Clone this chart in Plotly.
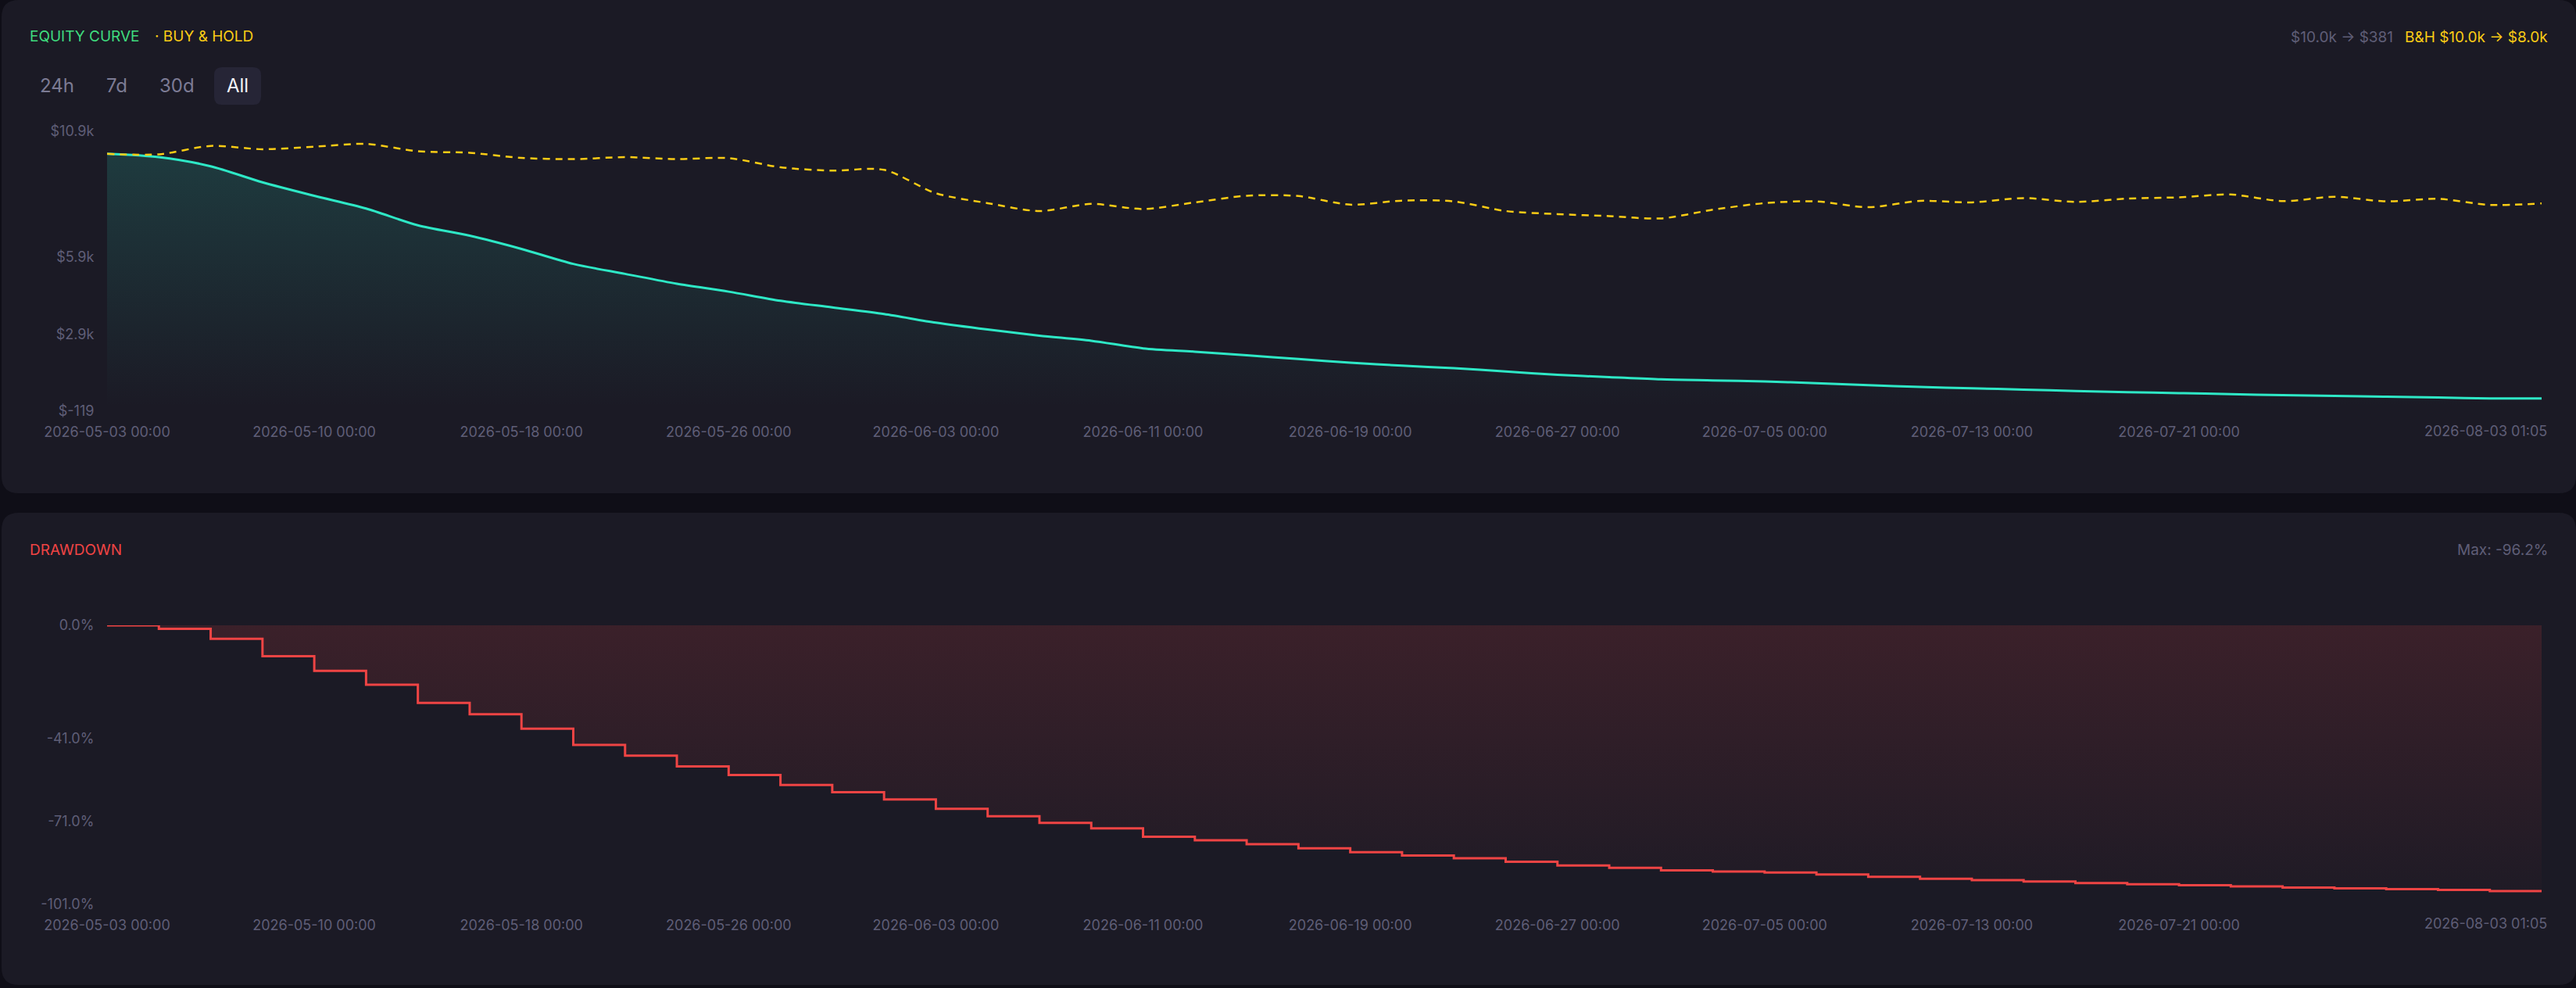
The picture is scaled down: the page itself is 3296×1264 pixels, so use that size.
import plotly.graph_objects as go

W, H = 3296, 1264

# one point every 2 days (plus start and "now")
dates = [
    "2026-05-03 00:00",
    "2026-05-04 00:00", "2026-05-06 00:00", "2026-05-08 00:00", "2026-05-10 00:00",
    "2026-05-12 00:00", "2026-05-14 00:00", "2026-05-16 00:00", "2026-05-18 00:00",
    "2026-05-20 00:00", "2026-05-22 00:00", "2026-05-24 00:00", "2026-05-26 00:00",
    "2026-05-28 00:00", "2026-05-30 00:00",
    "2026-06-01 00:00", "2026-06-03 00:00", "2026-06-05 00:00", "2026-06-07 00:00",
    "2026-06-09 00:00", "2026-06-11 00:00", "2026-06-13 00:00", "2026-06-15 00:00",
    "2026-06-17 00:00", "2026-06-19 00:00", "2026-06-21 00:00", "2026-06-23 00:00",
    "2026-06-25 00:00", "2026-06-27 00:00", "2026-06-29 00:00",
    "2026-07-01 00:00", "2026-07-03 00:00", "2026-07-05 00:00", "2026-07-07 00:00",
    "2026-07-09 00:00", "2026-07-11 00:00", "2026-07-13 00:00", "2026-07-15 00:00",
    "2026-07-17 00:00", "2026-07-19 00:00", "2026-07-21 00:00", "2026-07-23 00:00",
    "2026-07-25 00:00", "2026-07-27 00:00", "2026-07-29 00:00", "2026-07-31 00:00",
    "2026-08-02 00:00", "2026-08-03 01:05",
]

equity = [10000, 9870, 9510, 8880, 8350, 7850, 7190, 6780, 6260, 5670, 5280, 4890,
          4580, 4220, 3960, 3700, 3360, 3090, 2850, 2650, 2350, 2220, 2080, 1930,
          1790, 1670, 1570, 1440, 1310, 1220, 1130, 1090, 1050, 980, 900, 830,
          780, 730, 670, 630, 590, 550, 510, 480, 450, 420, 380, 381]

buy_hold = [10000, 9980, 10310, 10180, 10280, 10390, 10100, 10040, 9840, 9790, 9870, 9790,
            9830, 9470, 9340, 9370, 8450, 8060, 7750, 8030, 7830, 8090, 8350, 8340,
            8000, 8160, 8130, 7750, 7630, 7550, 7460, 7800, 8060, 8130, 7900, 8150,
            8090, 8260, 8110, 8240, 8290, 8400, 8140, 8310, 8130, 8230, 7990, 8050]

drawdown = [0, -1.3, -4.9, -11.2, -16.5, -21.5, -28.1, -32.2, -37.4, -43.3, -47.2, -51.1,
            -54.2, -57.8, -60.4, -63.0, -66.4, -69.1, -71.5, -73.5, -76.5, -77.8, -79.2, -80.7,
            -82.1, -83.3, -84.3, -85.6, -86.9, -87.8, -88.7, -89.1, -89.5, -90.2, -91.0, -91.7,
            -92.2, -92.7, -93.3, -93.7, -94.1, -94.5, -94.9, -95.2, -95.5, -95.8, -96.2, -96.2]

x_ticks = ["2026-05-03 00:00", "2026-05-10 00:00", "2026-05-18 00:00", "2026-05-26 00:00",
           "2026-06-03 00:00", "2026-06-11 00:00", "2026-06-19 00:00", "2026-06-27 00:00",
           "2026-07-05 00:00", "2026-07-13 00:00", "2026-07-21 00:00"]
last_tick = "2026-08-03 01:05"

eq_tickvals = [-119, 2911, 5941, 10900]
eq_ticktext = ["$-119", "$2.9k", "$5.9k", "$10.9k"]
dd_tickvals = [0, -41, -71, -101]
dd_ticktext = ["0.0%", "-41.0%", "-71.0%", "-101.0%"]

PAGE = "#0f0e17"
CARD = "#1b1a25"
MUTED = "#5f5e77"
TEAL = "#2ee8c6"
YELLOW = "#facc15"
RED = "#ef4444"
GREEN = "#3fdc7e"
FONT = "Inter, sans-serif"


def px(x):
    return x / W


def py(y):
    return 1 - y / H


def rounded(x0, y0, x1, y1, r, color):
    a, b, top, bot = px(x0), px(x1), py(y0), py(y1)
    rx, ry = r / W, r / H
    path = (f"M{a+rx},{top} L{b-rx},{top} Q{b},{top} {b},{top-ry} "
            f"L{b},{bot+ry} Q{b},{bot} {b-rx},{bot} L{a+rx},{bot} "
            f"Q{a},{bot} {a},{bot+ry} L{a},{top-ry} Q{a},{top} {a+rx},{top} Z")
    return dict(type="path", xref="paper", yref="paper", path=path,
                fillcolor=color, line=dict(width=0), layer="below")


def label(text, x, y, color, size=18, anchor="left", **kw):
    return dict(text=text, x=px(x), y=py(y), xref="paper", yref="paper",
                xanchor=anchor, yanchor="middle", showarrow=False,
                font=dict(family=FONT, size=size, color=color), **kw)


fig = go.Figure()

fig.add_trace(go.Scatter(
    x=dates, y=equity, mode="lines",
    line=dict(color=TEAL, width=3, shape="spline", smoothing=0.8),
    fill="tozeroy",
    fillgradient=dict(type="vertical",
                      colorscale=[[0, "rgba(46,232,198,0)"], [1, "rgba(46,232,198,0.16)"]]),
    hoverinfo="skip",
))
fig.add_trace(go.Scatter(
    x=dates, y=buy_hold, mode="lines",
    line=dict(color=YELLOW, width=2.5, dash="9px,7px", shape="spline", smoothing=0.8),
    hoverinfo="skip",
))
fig.add_trace(go.Scatter(
    x=dates, y=drawdown, mode="lines", xaxis="x2", yaxis="y2",
    line=dict(color=RED, width=3, shape="hv"),
    fill="tozeroy",
    fillgradient=dict(type="vertical",
                      colorscale=[[0, "rgba(239,68,68,0.02)"], [1, "rgba(239,68,68,0.15)"]]),
    hoverinfo="skip",
))

plot_dom = [px(137), px(3252)]
tickfont = dict(family=FONT, size=18, color=MUTED)
xcommon = dict(type="category", range=[0, len(dates) - 1], tickmode="array",
               tickvals=x_ticks, ticktext=x_ticks, showgrid=False, zeroline=False,
               showline=False, ticks="outside", ticklen=10, tickcolor="rgba(0,0,0,0)",
               tickfont=tickfont, fixedrange=True, domain=plot_dom, automargin=False)
ycommon = dict(showgrid=False, zeroline=False, showline=False, ticks="outside",
               ticklen=12, tickcolor="rgba(0,0,0,0)", tickfont=tickfont,
               tickmode="array", fixedrange=True, automargin=False)

shapes = [
    rounded(2, 0, 3296, 631, 22, CARD),
    rounded(2, 656, 3296, 1260, 22, CARD),
    rounded(274, 86, 334, 134, 10, "#262536"),
]

annotations = [
    label("EQUITY CURVE", 36, 47, GREEN, 19),
    label("· BUY &amp; HOLD", 196, 47, YELLOW, 19),
    label("$10.0k → $381", 3064, 48, MUTED, 19, "right"),
    label("B&amp;H $10.0k → $8.0k", 3262, 48, YELLOW, 19, "right"),
    label("24h", 73, 109, "#7c7b94", 24, "center"),
    label("7d", 149, 109, "#7c7b94", 24, "center"),
    label("30d", 226, 109, "#7c7b94", 24, "center"),
    label("All", 304, 109, "#f2f2f7", 24, "center"),
    label("DRAWDOWN", 36, 703, RED, 19),
    label("Max: -96.2%", 3262, 703, MUTED, 19, "right"),
    dict(text=last_tick, x=last_tick, xref="x", y=py(551), yref="paper",
         xanchor="right", yanchor="middle", xshift=9, showarrow=False, font=tickfont),
    dict(text=last_tick, x=last_tick, xref="x2", y=py(1181), yref="paper",
         xanchor="right", yanchor="middle", xshift=9, showarrow=False, font=tickfont),
]

fig.update_layout(
    width=W, height=H,
    margin=dict(l=0, r=0, t=0, b=0, pad=0, autoexpand=False),
    paper_bgcolor=PAGE, plot_bgcolor="rgba(0,0,0,0)",
    font=dict(family=FONT),
    showlegend=False, hovermode=False,
    xaxis=dict(xcommon, anchor="y"),
    yaxis=dict(ycommon, domain=[py(526), py(167.5)], range=[-119, 10900],
               tickvals=eq_tickvals, ticktext=eq_ticktext),
    xaxis2=dict(xcommon, anchor="y2"),
    yaxis2=dict(ycommon, domain=[py(1157), py(800)], range=[-101, 0],
                tickvals=dd_tickvals, ticktext=dd_ticktext),
    shapes=shapes,
    annotations=annotations,
)

fig.write_html(
    "out.html",
    config={"displayModeBar": False},
    post_script="document.body.style.margin='0';document.body.style.background='%s';" % PAGE,
)
